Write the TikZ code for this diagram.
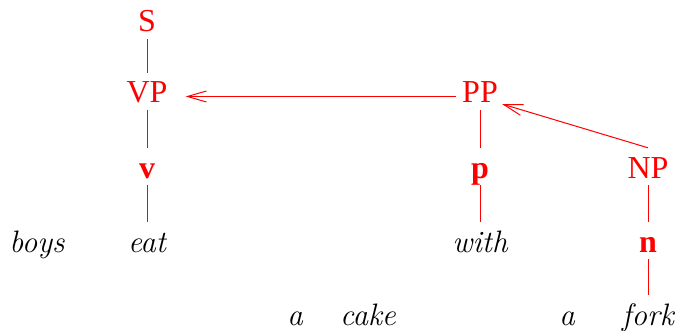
\documentclass[tikz,border=0pt]{standalone}
\usepackage{fontspec}
\newfontfamily\treefont{Liberation Serif}
\usetikzlibrary{arrows.meta}
\begin{document}
\begin{tikzpicture}[x=1pt,y=-1pt,
  every node/.style={anchor=base,inner xsep=2pt,inner ysep=2pt,text height=28pt,text depth=5pt,font=\treefont\fontsize{32}{38}\selectfont},
  cat/.style={text=red},
  lex/.style={text=red,font=\treefont\fontsize{32}{38}\selectfont\bfseries},
  word/.style={text=black,font=\rmfamily\fontsize{31}{37}\selectfont\itshape},
  edge/.style={draw=red,line width=1pt},
  arr/.style={draw=red,line width=1pt,-{Straight Barb[length=19pt,width=11pt,line width=1pt]}}]
\useasboundingbox (0,0) rectangle (676,331);
% categories
\node[cat] (S) at (147,32) {S};
\node[cat] (VP) at (147,103) {VP};
\node[lex] (v) at (147,178) {v};
\node[word] (eat) at (147,252) {eat};
\node[word] (boys) at (37,252) {boys};
\node[cat] (PP) at (480,103) {PP};
\node[lex] (p) at (480,178) {p};
\node[word] (with) at (480,252) {with};
\node[cat] (NP) at (648,178) {NP};
\node[lex] (n) at (648,252) {n};
\node[word] (fork) at (648,325) {fork};
\node[word] (a1) at (295,325) {a};
\node[word] (cake) at (368,325) {cake};
\node[word] (a2) at (567,325) {a};
% edges
\draw[edge] (S.south) -- (VP.north);
\draw[edge] (VP.south) -- (v.north);
\draw[edge] (v.south) -- (eat.north);
\draw[edge] (PP.south) -- (p.north);
\draw[edge] (p.south) -- (with.north);
\draw[edge] (NP.south) -- (n.north);
\draw[edge] (n.south) -- (fork.north);
% arrows
\draw[arr,shorten <=4pt,shorten >=16pt] ([yshift=-5pt]PP.west) -- ([yshift=-5pt]VP.east);
\draw[arr] (NP.north) -- ([xshift=2pt,yshift=-1pt]PP.base east);
\end{tikzpicture}
\end{document}
